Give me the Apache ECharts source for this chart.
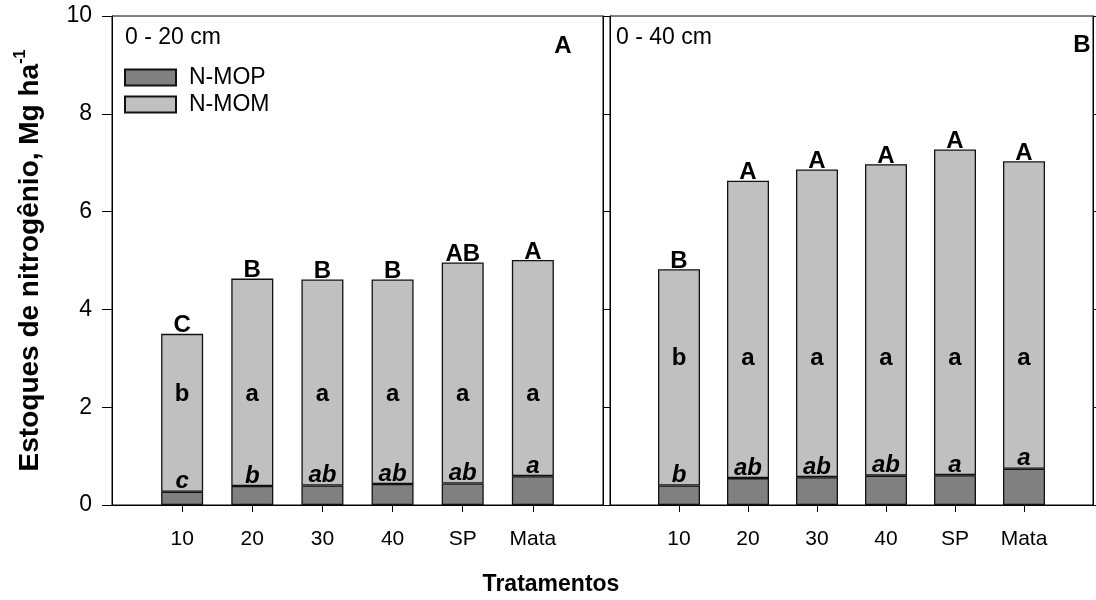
<!doctype html>
<html>
<head>
<meta charset="utf-8">
<title>Estoques de nitrogênio</title>
<script src="https://cdn.jsdelivr.net/npm/echarts@6/dist/echarts.min.js"></script>
<style>
  html, body { margin: 0; padding: 0; background: #fff; }
  #chart { width: 1096px; height: 600px; }
</style>
</head>
<body>
<div id="chart"></div>
<script>
// dados
var categories = ['10', '20', '30', '40', 'SP', 'Mata'];
var yTicks = [0, 2, 4, 6, 8, 10];

// 0 - 20 cm
var mopA = [0.27, 0.39, 0.40, 0.43, 0.44, 0.59];
var momA = [3.23, 4.24, 4.21, 4.18, 4.52, 4.42];
var totalLettersA = ['C', 'B', 'B', 'B', 'AB', 'A'];
var mopLettersA = ['c', 'b', 'ab', 'ab', 'ab', 'a'];
var momLettersA = ['b', 'a', 'a', 'a', 'a', 'a'];

// 0 - 40 cm
var mopB = [0.40, 0.55, 0.57, 0.60, 0.61, 0.74];
var momB = [4.42, 6.08, 6.29, 6.37, 6.66, 6.29];
var totalLettersB = ['B', 'A', 'A', 'A', 'A', 'A'];
var mopLettersB = ['b', 'ab', 'ab', 'ab', 'a', 'a'];
var momLettersB = ['b', 'a', 'a', 'a', 'a', 'a'];

var FONT = '"Liberation Sans", Arial, sans-serif';
var axisCats = [''].concat(categories, ['']);

function pad(arr) {
  return ['-'].concat(arr, ['-']);
}

function xAxisFor(gi) {
  return {
    type: 'category', gridIndex: gi, data: axisCats, boundaryGap: false,
    axisLine: { lineStyle: { color: '#000', width: 1 } },
    axisTick: { length: 7, lineStyle: { color: '#000' },
      interval: function (i) { return i > 0 && i < axisCats.length - 1; } },
    axisLabel: { color: '#000', fontSize: 21, fontFamily: FONT, margin: 24,
      interval: 0 },
    splitLine: { show: false }
  };
}

function yAxisFor(gi, pos, withLabels, tickLen) {
  var ax = {
    type: 'value', gridIndex: gi, position: pos, min: 0, max: 10, interval: 2,
    axisLine: { show: true, lineStyle: { color: '#000', width: 1 } },
    axisTick: { show: true, length: tickLen, lineStyle: { color: '#000' } },
    axisLabel: { show: withLabels, color: '#000', fontSize: 23, fontFamily: FONT, margin: 20,
      formatter: function (v) { return yTicks.indexOf(v) >= 0 ? String(v) : ''; } },
    splitLine: { show: false }
  };
  if (withLabels) {
    ax.name = '{t|Estoques de nitrogênio, Mg ha}{s|-1}';
    ax.nameLocation = 'middle';
    ax.nameGap = 68;
    ax.nameTextStyle = {
      rich: {
        t: { fontSize: 28, fontWeight: 'bold', fontFamily: FONT, color: '#000', lineHeight: 31, verticalAlign: 'bottom' },
        s: { fontSize: 16, fontWeight: 'bold', fontFamily: FONT, color: '#000', lineHeight: 16, verticalAlign: 'top' }
      }
    };
  }
  return ax;
}

var barBorder = { borderColor: '#111', borderWidth: 1.3 };

function panelSeries(gi, mop, mom, mopLetters, totalLetters, momLetters, midY) {
  return [
    {
      name: 'N-MOP', type: 'bar', stack: 'n' + gi, xAxisIndex: gi, yAxisIndex: gi * 2,
      barWidth: 42, data: pad(mop),
      itemStyle: Object.assign({ color: '#808080' }, barBorder),
      label: { show: true, position: 'top', distance: -2, color: '#000',
        fontSize: 24, fontWeight: 'bold', fontStyle: 'italic', fontFamily: FONT,
        formatter: function (p) { return mopLetters[p.dataIndex - 1]; } }
    },
    {
      name: 'N-MOM', type: 'bar', stack: 'n' + gi, xAxisIndex: gi, yAxisIndex: gi * 2,
      barWidth: 42, data: pad(mom),
      itemStyle: Object.assign({ color: '#c0c0c0' }, barBorder),
      label: { show: true, position: 'top', distance: -4, color: '#000',
        fontSize: 24, fontWeight: 'bold', fontFamily: FONT,
        formatter: function (p) { return totalLetters[p.dataIndex - 1]; } }
    },
    {
      name: 'letras' + gi, type: 'scatter', xAxisIndex: gi, yAxisIndex: gi * 2,
      symbolSize: 0, silent: true,
      itemStyle: { color: 'rgba(0,0,0,0)', opacity: 1 },
      data: categories.map(function (c, i) { return [i + 1, midY]; }),
      label: { show: true, position: 'inside', color: '#000',
        fontSize: 24, fontWeight: 'bold', fontFamily: FONT,
        formatter: function (p) { return momLetters[p.dataIndex]; } }
    }
  ];
}

var chart = echarts.init(document.getElementById('chart'), null, { renderer: 'canvas' });

var option = {
  animation: false,
  backgroundColor: '#fff',
  grid: [
    { left: 112, top: 16, width: 491, height: 489, show: true, borderColor: '#000', borderWidth: 1 },
    { left: 610, top: 16, width: 490, height: 489, show: true, borderColor: '#000', borderWidth: 1 }
  ],
  xAxis: [xAxisFor(0), xAxisFor(1)],
  yAxis: [
    yAxisFor(0, 'left', true, 10),
    yAxisFor(0, 'right', false, 7),
    yAxisFor(1, 'left', false, 7),
    yAxisFor(1, 'right', false, 7)
  ],
  legend: {
    data: ['N-MOP', 'N-MOM'], orient: 'vertical', left: 124, top: 66, padding: 0,
    itemWidth: 51, itemHeight: 16, itemGap: 4, icon: 'rect',
    textStyle: { color: '#000', fontSize: 23, fontFamily: FONT, padding: [0, 0, 0, 8] }
  },
  graphic: [
    { type: 'text', x: 125, y: 38, style: { text: '0 - 20 cm', fill: '#000', font: '23px ' + FONT, verticalAlign: 'middle' } },
    { type: 'text', x: 563, y: 46, style: { text: 'A', fill: '#000', font: 'bold 24px ' + FONT, align: 'center', verticalAlign: 'middle' } },
    { type: 'text', x: 616, y: 38, style: { text: '0 - 40 cm', fill: '#000', font: '23px ' + FONT, verticalAlign: 'middle' } },
    { type: 'text', x: 1082, y: 45, style: { text: 'B', fill: '#000', font: 'bold 24px ' + FONT, align: 'center', verticalAlign: 'middle' } },
    { type: 'text', x: 551, y: 585, style: { text: 'Tratamentos', fill: '#000', font: 'bold 23px ' + FONT, align: 'center', verticalAlign: 'middle' } }
  ],
  series: panelSeries(0, mopA, momA, mopLettersA, totalLettersA, momLettersA, 2.27)
    .concat(panelSeries(1, mopB, momB, mopLettersB, totalLettersB, momLettersB, 3.0))
};

chart.setOption(option);
</script>
</body>
</html>
